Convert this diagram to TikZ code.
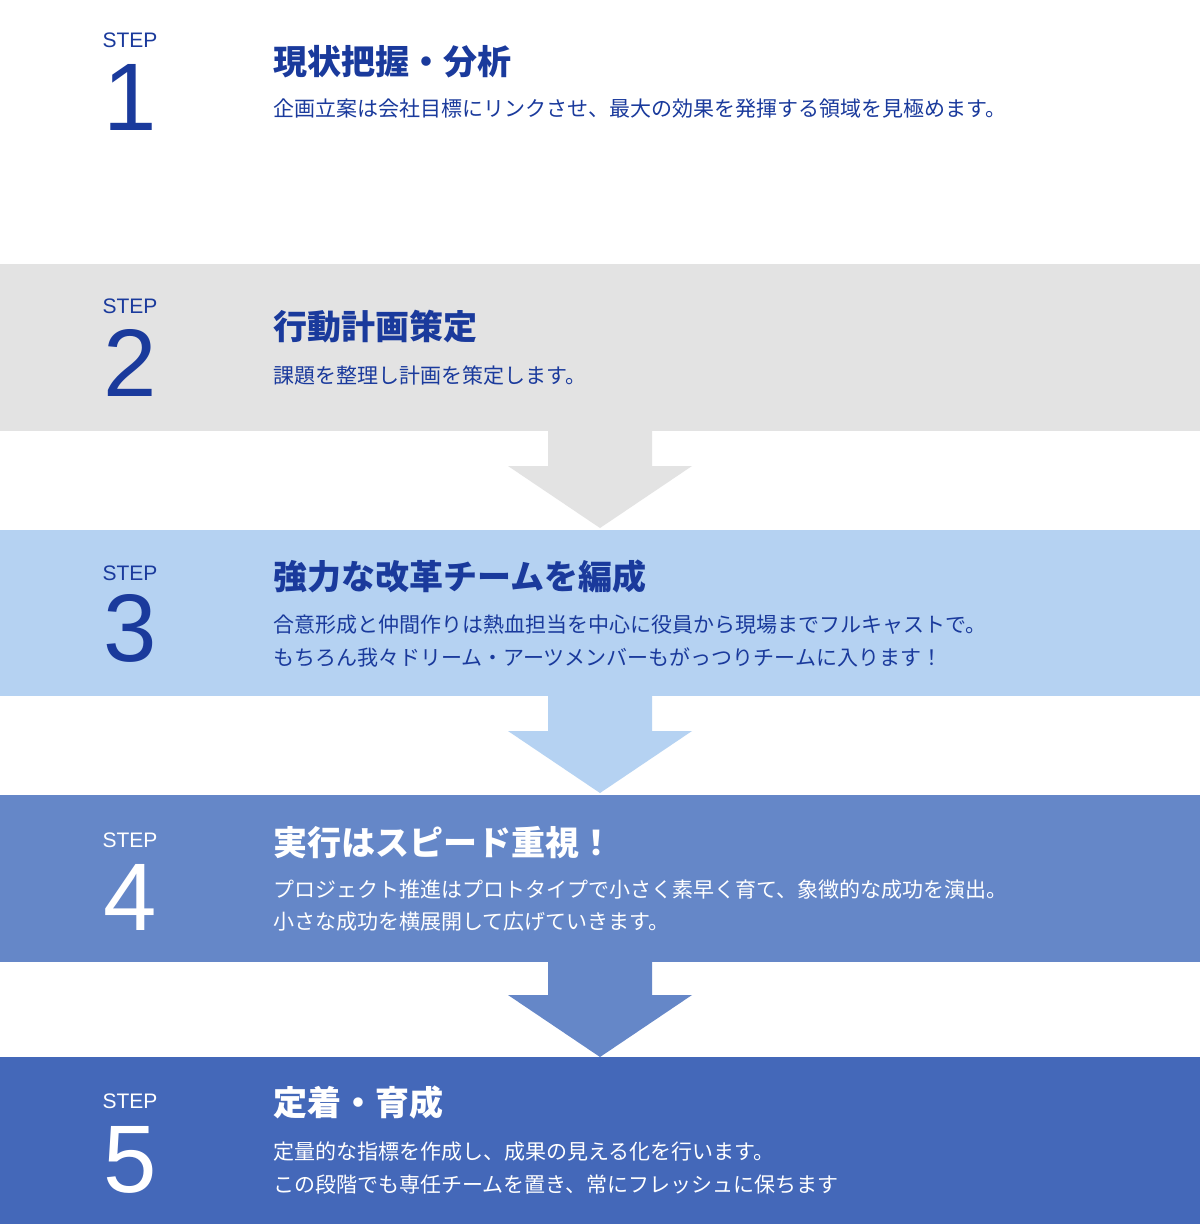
\documentclass[tikz,border=0pt]{standalone}
\usepackage{fontspec}
\setmainfont{Noto Sans CJK JP}
\newfontfamily\stepfont{Liberation Sans}
\definecolor{dk}{HTML}{1A3A9C}
\definecolor{c2}{HTML}{E3E3E3}
\definecolor{c3}{HTML}{B5D2F2}
\definecolor{c4}{HTML}{6587C8}
\definecolor{c5}{HTML}{4468B9}
\tikzset{
 steplbl/.style={font=\stepfont\fontsize{21}{21}\selectfont,anchor=center,inner sep=0},
 numlbl/.style={font=\stepfont\fontsize{96}{96}\selectfont,anchor=center,inner sep=0},
 ttl/.style={font=\fontsize{34}{34}\selectfont\bfseries,anchor=west,inner sep=0},
 sub/.style={font=\fontsize{21}{21}\selectfont,anchor=west,inner sep=0},
}
\begin{document}
\begin{tikzpicture}[x=1pt,y=-1pt]
\useasboundingbox (0,0) rectangle (1200,1224);
\fill[white] (0,0) rectangle (1200,1224);
\fill[c2] (0,264) rectangle (1200,431);
\fill[c2] (548,430) -- (652,430) -- (652,466) -- (692,466) -- (600,528) -- (508,466) -- (548,466) -- cycle;
\fill[c3] (0,530) rectangle (1200,696);
\fill[c3] (548,695) -- (652,695) -- (652,731) -- (692,731) -- (600,793) -- (508,731) -- (548,731) -- cycle;
\fill[c4] (0,795) rectangle (1200,962);
\fill[c4] (548,961) -- (652,961) -- (652,995) -- (692,995) -- (600,1057) -- (508,995) -- (548,995) -- cycle;
\fill[c5] (0,1057) rectangle (1200,1224);
% step 1
\node[steplbl,text=dk] (s1) at (130,40) {STEP};
\node[numlbl,text=dk] (n1) at (130,97) {1};
\node[ttl,text=dk] (t1) at (273,62) {現状把握・分析};
\node[sub,text=dk] (u1) at (273,109) {企画立案は会社目標にリンクさせ、最大の効果を発揮する領域を見極めます。};
% step 2
\node[steplbl,text=dk] (s2) at (130,306) {STEP};
\node[numlbl,text=dk] (n2) at (130,363) {2};
\node[ttl,text=dk] (t2) at (273,327) {行動計画策定};
\node[sub,text=dk] (u2) at (273,376) {課題を整理し計画を策定します。};
% step 3
\node[steplbl,text=dk] (s3) at (130,573) {STEP};
\node[numlbl,text=dk] (n3) at (130,628) {3};
\node[ttl,text=dk] (t3) at (273,577) {強力な改革チームを編成};
\node[sub,text=dk] (u3) at (273,625) {合意形成と仲間作りは熱血担当を中心に役員から現場までフルキャストで。};
\node[sub,text=dk] (v3) at (273,657) {もちろん我々ドリーム・アーツメンバーもがっつりチームに入ります！};
% step 4
\node[steplbl,text=white] (s4) at (130,840) {STEP};
\node[numlbl,text=white] (n4) at (130,897) {4};
\node[ttl,text=white] (t4) at (273,843) {実行はスピード重視！};
\node[sub,text=white] (u4) at (273,890) {プロジェクト推進はプロトタイプで小さく素早く育て、象徴的な成功を演出。};
\node[sub,text=white] (v4) at (273,922) {小さな成功を横展開して広げていきます。};
% step 5
\node[steplbl,text=white] (s5) at (130,1101) {STEP};
\node[numlbl,text=white] (n5) at (130,1160) {5};
\node[ttl,text=white] (t5) at (273,1103) {定着・育成};
\node[sub,text=white] (u5) at (273,1152) {定量的な指標を作成し、成果の見える化を行います。};
\node[sub,text=white] (v5) at (273,1185) {この段階でも専任チームを置き、常にフレッシュに保ちます};
\end{tikzpicture}
\end{document}
